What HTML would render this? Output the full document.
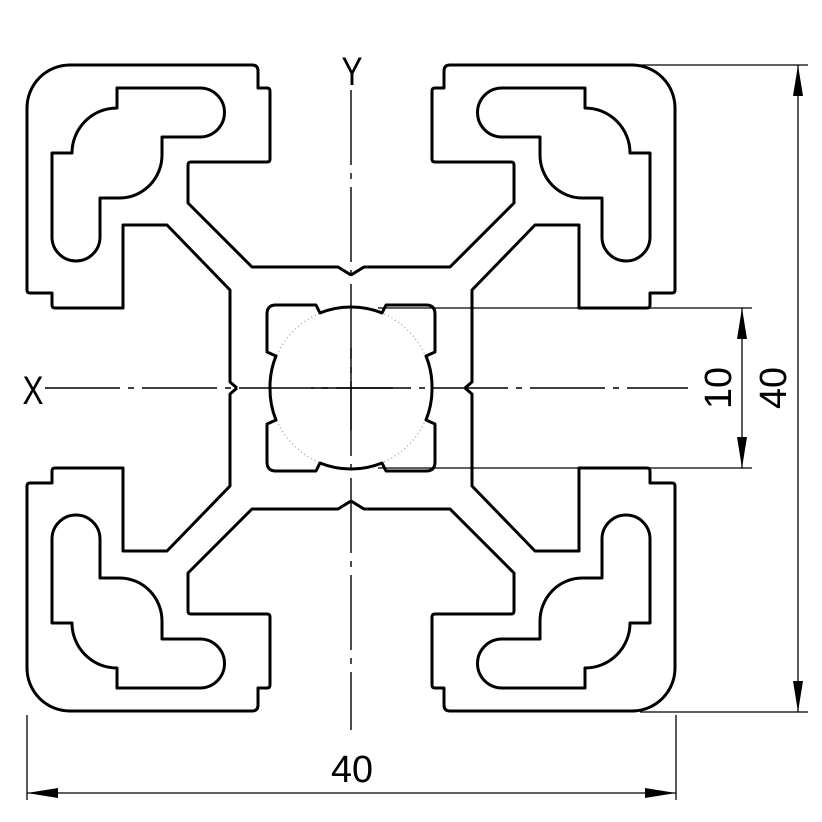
<!DOCTYPE html>
<html><head><meta charset="utf-8"><style>
html,body{margin:0;padding:0;background:#fff;}
svg{display:block;}
text{font-family:"Liberation Sans",sans-serif;fill:#000;}
</style></head><body>
<svg width="822" height="822" viewBox="0 0 822 822" xmlns="http://www.w3.org/2000/svg">
<defs>
<g id="q">
<path d="M351,275 L338,267 L252,267 L188,203 L188,165 Q188,162 191,162 L267,162 Q270,162 270,159 L270,91 Q270,88 267,88 L258,88 L258,71 Q258,65 252,65 L70,65 A43,43 0 0 0 27,108 L27,290 Q27,293 30,293 L52,293 L52,305 Q52,308 55,308 L123,308 L123,225 L167,225 L230,290 L230,382 L237,388" fill="none" stroke="#000" stroke-width="3" stroke-linejoin="round"/>
<path d="M117,88 L200,88 A24.5,24.5 0 0 1 200,137 L162,137 L162,155 A42.5,43 0 0 1 120,198 L100,198 L100,237 A24,24 0 0 1 52,237 L52,153 L72,153 A45,45 0 0 1 117,108 Z" fill="none" stroke="#000" stroke-width="3" stroke-linejoin="round"/>
<path d="M270,388 A81,81 0 0 1 276,356 L267,352 L267,314 Q267,305 276,305 L316,305 L320,313 A81,81 0 0 1 351,307" fill="none" stroke="#000" stroke-width="3" stroke-linejoin="round"/>
</g>
</defs>
<circle cx="351" cy="388" r="81" fill="none" stroke="#999" stroke-width="1.2" stroke-dasharray="1 3"/>
<use href="#q"/>
<use href="#q" transform="translate(702,0) scale(-1,1)"/>
<use href="#q" transform="translate(0,776) scale(1,-1)"/>
<use href="#q" transform="translate(702,776) scale(-1,-1)"/>
<!-- center lines -->
<line x1="351" y1="90" x2="351" y2="730" stroke="#000" stroke-width="1.4" stroke-dasharray="75 8 6 8"/>
<line x1="45" y1="388" x2="688" y2="388" stroke="#000" stroke-width="1.4" stroke-dasharray="75 8 6 8"/>
<line x1="311" y1="388" x2="393" y2="388" stroke="#000" stroke-width="1.4"/>
<line x1="351" y1="348" x2="351" y2="430" stroke="#000" stroke-width="1.4"/>
<text x="352" y="85" font-size="40" text-anchor="middle" textLength="21" lengthAdjust="spacingAndGlyphs">Y</text>
<text x="33" y="404" font-size="40" text-anchor="middle" textLength="21" lengthAdjust="spacingAndGlyphs">X</text>
<!-- dimension 10 -->
<g stroke="#000" stroke-width="1.3">
<line x1="378" y1="308" x2="752" y2="308"/>
<line x1="378" y1="468" x2="752" y2="468"/>
<line x1="742" y1="308" x2="742" y2="468"/>
<line x1="640" y1="65" x2="808" y2="65"/>
<line x1="640" y1="712" x2="808" y2="712"/>
<line x1="798" y1="65" x2="798" y2="712"/>
<line x1="27" y1="715" x2="27" y2="800"/>
<line x1="676" y1="715" x2="676" y2="800"/>
<line x1="27" y1="793" x2="676" y2="793"/>
</g>
<g fill="#000">
<polygon points="742,308 737,339 747,339"/>
<polygon points="742,468 737,437 747,437"/>
<polygon points="798,65 793,96 803,96"/>
<polygon points="798,712 793,681 803,681"/>
<polygon points="27,793 58,788 58,798"/>
<polygon points="676,793 645,788 645,798"/>
</g>
<text x="0" y="0" font-size="38" text-anchor="middle" transform="translate(731,388) rotate(-90)" textLength="42" lengthAdjust="spacingAndGlyphs">10</text>
<text x="0" y="0" font-size="38" text-anchor="middle" transform="translate(786,388) rotate(-90)" textLength="42" lengthAdjust="spacingAndGlyphs">40</text>
<text x="352" y="782" font-size="38" text-anchor="middle" textLength="42" lengthAdjust="spacingAndGlyphs">40</text>
</svg>
</body></html>
